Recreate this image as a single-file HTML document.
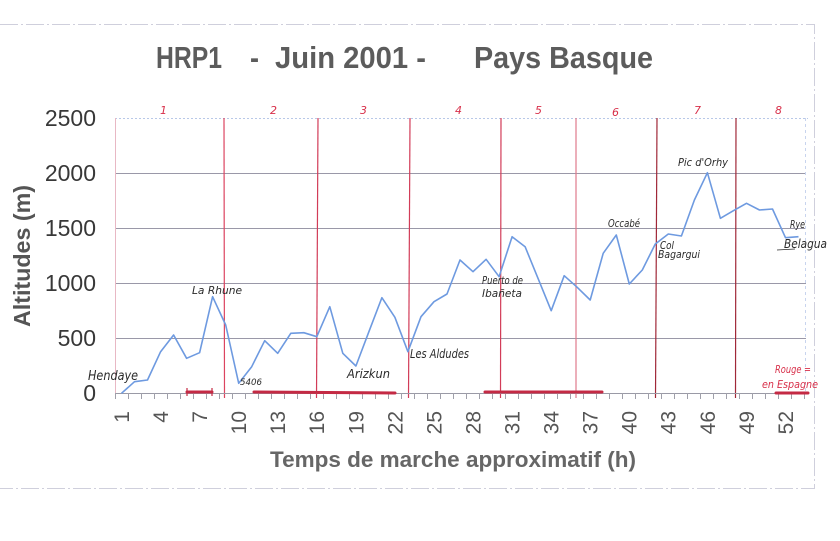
<!DOCTYPE html>
<html><head><meta charset="utf-8"><style>
html,body{margin:0;padding:0;background:#fff;}
svg{display:block;}
.hw{font-family:"DejaVu Sans","Liberation Sans",sans-serif;font-style:italic;fill:#2a2a2a;}
.rd{font-family:"DejaVu Sans","Liberation Sans",sans-serif;font-style:italic;fill:#d8304a;}
</style></head><body>
<svg width="840" height="541" viewBox="0 0 840 541" xmlns="http://www.w3.org/2000/svg">
<rect width="840" height="541" fill="#fff"/>
<!-- page border -->
<path d="M0 24.5 H814.5 V488.5 H0" fill="none" stroke="#cfcfdc" stroke-width="1" stroke-dasharray="18 3 2 3"/>
<!-- title -->
<g font-family="Liberation Sans, Arial, sans-serif" font-weight="bold" fill="#5c5c5c" font-size="31">
<text x="156" y="68" textLength="66" lengthAdjust="spacingAndGlyphs">HRP1</text>
<text x="250" y="68" textLength="9" lengthAdjust="spacingAndGlyphs">-</text>
<text x="275" y="68" textLength="151" lengthAdjust="spacingAndGlyphs">Juin 2001 -</text>
<text x="474" y="68" textLength="179" lengthAdjust="spacingAndGlyphs">Pays Basque</text>
</g>
<!-- plot grid -->
<line x1="115" y1="118.5" x2="808" y2="118.5" stroke="#b8c8e8" stroke-width="1" stroke-dasharray="2 2"/>
<g stroke="#9a98a8" stroke-width="1">
<line x1="115" y1="173.5" x2="806" y2="173.5"/>
<line x1="115" y1="228.5" x2="806" y2="228.5"/>
<line x1="115" y1="283.5" x2="806" y2="283.5"/>
<line x1="115" y1="338.5" x2="806" y2="338.5"/>
</g>
<line x1="805.5" y1="118" x2="805.5" y2="393" stroke="#c8d4ee" stroke-width="1" stroke-dasharray="3 3"/>
<line x1="115.5" y1="118" x2="115.5" y2="398" stroke="#e8b8c4" stroke-width="1"/>
<!-- day separators -->
<g stroke-width="1.2" fill="none">
<line x1="224" y1="118" x2="224.5" y2="398" stroke="#dc4460"/>
<line x1="318" y1="118" x2="316.5" y2="398" stroke="#d23c58"/>
<line x1="410" y1="118" x2="408.5" y2="398" stroke="#d23c58"/>
<line x1="501" y1="118" x2="500.5" y2="398" stroke="#d23c58"/>
<line x1="576" y1="118" x2="576" y2="398" stroke="#e07a8c"/>
<line x1="657" y1="118" x2="655.5" y2="398" stroke="#a02838"/>
<line x1="736" y1="118" x2="735.5" y2="398" stroke="#a02838"/>
</g>
<!-- x axis -->
<line x1="115" y1="393.5" x2="808" y2="393.5" stroke="#9a9aa6" stroke-width="1"/>
<g stroke="#a0a0aa" stroke-width="1">
<path d="M115.5 393V399M128.5 393V399M141.5 393V399M154.5 393V399M167.5 393V399M180.5 393V399M193.5 393V399M206.5 393V399M219.5 393V399M232.5 393V399M245.5 393V399M258.5 393V399M271.5 393V399M284.5 393V399M297.5 393V399M310.5 393V399M323.5 393V399M336.5 393V399M349.5 393V399M362.5 393V399M375.5 393V399M388.5 393V399M401.5 393V399M414.5 393V399M427.5 393V399M440.5 393V399M453.5 393V399M466.5 393V399M479.5 393V399M492.5 393V399M505.5 393V399M518.5 393V399M531.5 393V399M544.5 393V399M557.5 393V399M570.5 393V399M583.5 393V399M596.5 393V399M609.5 393V399M622.5 393V399M635.5 393V399M648.5 393V399M661.5 393V399M674.5 393V399M687.5 393V399M700.5 393V399M713.5 393V399M726.5 393V399M739.5 393V399M752.5 393V399M765.5 393V399M778.5 393V399M791.5 393V399M804.5 393V399"/>
</g>
<!-- red segments (Spain) -->
<g stroke="#c42a44" stroke-width="3" stroke-linecap="round">
<line x1="187" y1="392" x2="212" y2="392"/>
<line x1="254" y1="392" x2="395" y2="393"/>
<line x1="485" y1="392" x2="602" y2="392"/>
<line x1="776" y1="393" x2="808" y2="393"/>
</g>
<g stroke="#c42a44" stroke-width="1.2">
<line x1="187" y1="388" x2="187" y2="396"/><line x1="212" y1="388" x2="212" y2="396"/>
</g>
<!-- data line -->
<polyline fill="none" stroke="#6e9ae0" stroke-width="1.6" stroke-linejoin="round" points="121.5,393.3 134.5,381.7 147.5,380 160.6,351.7 173.6,335 186.6,358.3 199.6,352.7 212.6,296.7 225.7,325 238.7,383.3 251.7,366.7 264.7,340.7 277.7,353.3 290.8,333.3 303.8,332.7 316.8,336.7 329.8,306.7 342.8,353.3 355.9,366 368.9,331.7 381.9,297.7 394.9,317.3 407.9,351.7 421,316.7 434,301.7 447,294 460,260 473,271.7 486.1,259.3 499.1,276.7 512.1,236.7 525.1,246.7 538.1,278.6 551.2,310.7 564.2,275.7 577.2,287.3 590.2,300 603.2,253.3 616.3,235 629.3,284 642.3,270 655.3,244 668.3,234 681.4,236 694.4,200 707.4,172.7 720.4,218.3 733.4,210.7 746.5,203.3 759.5,210 772.5,209 785.5,237.7 798.5,236.7"/>
<!-- y tick labels -->
<g font-family="Liberation Sans, Arial, sans-serif" font-size="23" fill="#383838" text-anchor="end">
<text x="96" y="126">2500</text>
<text x="96" y="181">2000</text>
<text x="96" y="236">1500</text>
<text x="96" y="291">1000</text>
<text x="96" y="346">500</text>
<text x="96" y="401">0</text>
</g>
<!-- x tick labels -->
<g font-family="Liberation Sans, Arial, sans-serif" font-size="21" fill="#555" text-anchor="end">
<text transform="translate(121.5,411) rotate(-90)" dy="0.35em">1</text>
<text transform="translate(160.6,411) rotate(-90)" dy="0.35em">4</text>
<text transform="translate(199.6,411) rotate(-90)" dy="0.35em">7</text>
<text transform="translate(238.7,411) rotate(-90)" dy="0.35em">10</text>
<text transform="translate(277.7,411) rotate(-90)" dy="0.35em">13</text>
<text transform="translate(316.8,411) rotate(-90)" dy="0.35em">16</text>
<text transform="translate(355.9,411) rotate(-90)" dy="0.35em">19</text>
<text transform="translate(394.9,411) rotate(-90)" dy="0.35em">22</text>
<text transform="translate(434,411) rotate(-90)" dy="0.35em">25</text>
<text transform="translate(473,411) rotate(-90)" dy="0.35em">28</text>
<text transform="translate(512.1,411) rotate(-90)" dy="0.35em">31</text>
<text transform="translate(551.2,411) rotate(-90)" dy="0.35em">34</text>
<text transform="translate(590.2,411) rotate(-90)" dy="0.35em">37</text>
<text transform="translate(629.3,411) rotate(-90)" dy="0.35em">40</text>
<text transform="translate(668.3,411) rotate(-90)" dy="0.35em">43</text>
<text transform="translate(707.4,411) rotate(-90)" dy="0.35em">46</text>
<text transform="translate(746.5,411) rotate(-90)" dy="0.35em">49</text>
<text transform="translate(785.5,411) rotate(-90)" dy="0.35em">52</text>
</g>
<!-- axis titles -->
<text x="453" y="467" text-anchor="middle" font-family="Liberation Sans, Arial, sans-serif" font-weight="bold" font-size="22" fill="#666" textLength="366" lengthAdjust="spacingAndGlyphs">Temps de marche approximatif (h)</text>
<text transform="translate(30,256) rotate(-90)" text-anchor="middle" font-family="Liberation Sans, Arial, sans-serif" font-weight="bold" font-size="23" fill="#555" textLength="142" lengthAdjust="spacingAndGlyphs">Altitudes (m)</text>
<!-- day numbers -->
<g class="rd" font-size="11">
<text x="160" y="114">1</text>
<text x="270" y="114">2</text>
<text x="360" y="114">3</text>
<text x="455" y="114">4</text>
<text x="535" y="114">5</text>
<text x="612" y="116">6</text>
<text x="694" y="114">7</text>
<text x="775" y="114">8</text>
</g>
<!-- handwritten annotations -->
<g class="hw">
<text x="88" y="380" font-size="13" textLength="50" lengthAdjust="spacingAndGlyphs">Hendaye</text>
<text x="192" y="294" font-size="11" textLength="50" lengthAdjust="spacingAndGlyphs">La Rhune</text>
<text x="240" y="385" font-size="9" textLength="22" lengthAdjust="spacingAndGlyphs">5406</text>
<text x="347" y="378" font-size="12" textLength="43" lengthAdjust="spacingAndGlyphs">Arizkun</text>
<text x="410" y="358" font-size="12" textLength="59" lengthAdjust="spacingAndGlyphs">Les Aldudes</text>
<text x="482" y="284" font-size="11" textLength="41" lengthAdjust="spacingAndGlyphs">Puerto de</text>
<text x="482" y="297" font-size="11" textLength="40" lengthAdjust="spacingAndGlyphs">Ibañeta</text>
<text x="608" y="227" font-size="11" textLength="32" lengthAdjust="spacingAndGlyphs">Occabé</text>
<text x="678" y="166" font-size="11" textLength="50" lengthAdjust="spacingAndGlyphs">Pic d'Orhy</text>
<text x="660" y="249" font-size="11" textLength="14" lengthAdjust="spacingAndGlyphs">Col</text>
<text x="658" y="258" font-size="11" textLength="42" lengthAdjust="spacingAndGlyphs">Bagargui</text>
<text x="790" y="228" font-size="11" textLength="15" lengthAdjust="spacingAndGlyphs">Rye</text>
<text x="784" y="248" font-size="12" textLength="43" lengthAdjust="spacingAndGlyphs">Belagua</text>
</g>
<line x1="777" y1="250" x2="795" y2="249" stroke="#2a2a2a" stroke-width="0.8"/>
<g class="rd" font-size="11">
<text x="775" y="373" textLength="36" lengthAdjust="spacingAndGlyphs">Rouge =</text>
<text x="762" y="388" textLength="56" lengthAdjust="spacingAndGlyphs">en Espagne</text>
</g>
</svg>
</body></html>
